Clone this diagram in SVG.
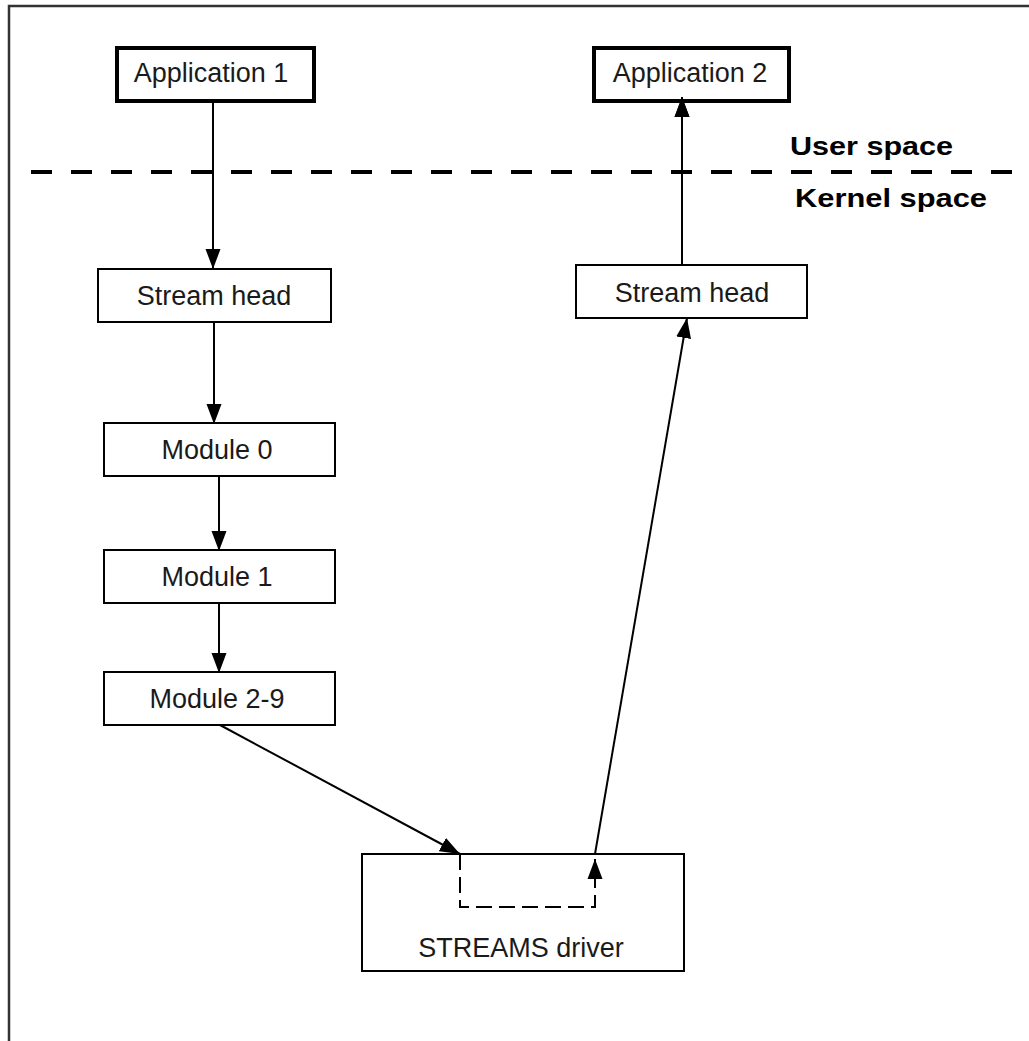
<svg xmlns="http://www.w3.org/2000/svg" width="1029" height="1041" viewBox="0 0 1029 1041">
  <style>
    .box { fill: #ffffff; stroke: #000000; stroke-width: 2; }
    .app { fill: #ffffff; stroke: #000000; stroke-width: 4; }
    .label { font-family: "Liberation Sans", Arial, sans-serif; font-size: 27px; fill: #1a1a1a; text-anchor: middle; }
    .zone { font-family: "Liberation Sans", Arial, sans-serif; font-size: 26px; font-weight: bold; fill: #000000; }
    .link { fill: none; stroke: #000000; stroke-width: 2; }
    .inner { fill: none; stroke: #000000; stroke-width: 2; stroke-dasharray: 16 7; }
  </style>
  <defs>
    <marker id="arrow" markerUnits="userSpaceOnUse" markerWidth="21" markerHeight="16" refX="20" refY="8" orient="auto">
      <path d="M0,0.5 L20,8 L0,15.5 Z" fill="#000000"/>
    </marker>
  </defs>

  <rect x="0" y="0" width="1029" height="1041" fill="#ffffff"/>

  <!-- outer frame (open to the right and bottom) -->
  <path d="M9,1041 V6 H1029" fill="none" stroke="#333333" stroke-width="2.5"/>

  <!-- user / kernel boundary -->
  <g id="boundary">
    <line x1="31" y1="172" x2="1029" y2="172" stroke="#000000" stroke-width="4" stroke-dasharray="21 19"/>
    <text class="zone" x="790" y="155" textLength="163" lengthAdjust="spacingAndGlyphs">User space</text>
    <text class="zone" x="795" y="207" textLength="192" lengthAdjust="spacingAndGlyphs">Kernel space</text>
  </g>

  <g id="connectors">
    <line class="link" x1="213" y1="102" x2="213" y2="269" marker-end="url(#arrow)"/>
    <line class="link" x1="214" y1="322" x2="214" y2="424" marker-end="url(#arrow)"/>
    <line class="link" x1="219" y1="476" x2="219" y2="551" marker-end="url(#arrow)"/>
    <line class="link" x1="219" y1="603" x2="219" y2="673" marker-end="url(#arrow)"/>
    <line class="link" x1="220" y1="725" x2="460" y2="854" marker-end="url(#arrow)"/>
    <path class="inner" d="M460,854 V907 H595 V877"/>
    <line class="link" x1="595" y1="880" x2="595" y2="859" marker-end="url(#arrow)"/>
    <line class="link" x1="595" y1="854" x2="687" y2="318" marker-end="url(#arrow)"/>
    <line class="link" x1="682" y1="265" x2="682" y2="97" marker-end="url(#arrow)"/>
  </g>

  <g id="app1">
    <rect class="app" x="117" y="48" width="197" height="53"/>
    <text class="label" x="211" y="82">Application 1</text>
  </g>

  <g id="app2">
    <rect class="app" x="594" y="48" width="195" height="53"/>
    <text class="label" x="690" y="82">Application 2</text>
  </g>
  <!-- arrow tip into Application 2 drawn over its frame -->
  <line class="link" x1="682" y1="125" x2="682" y2="97" marker-end="url(#arrow)"/>

  <g id="streamhead1">
    <rect class="box" x="98" y="269" width="233" height="53"/>
    <text class="label" x="214" y="305">Stream head</text>
  </g>

  <g id="streamhead2">
    <rect class="box" x="576" y="265" width="231" height="53"/>
    <text class="label" x="692" y="302">Stream head</text>
  </g>

  <g id="module0">
    <rect class="box" x="104" y="423" width="231" height="53"/>
    <text class="label" x="217" y="459">Module 0</text>
  </g>

  <g id="module1">
    <rect class="box" x="104" y="550" width="231" height="53"/>
    <text class="label" x="217" y="586">Module 1</text>
  </g>

  <g id="module29">
    <rect class="box" x="104" y="672" width="231" height="53"/>
    <text class="label" x="217" y="708">Module 2-9</text>
  </g>

  <g id="driver">
    <rect x="362" y="854" width="322" height="117" fill="none" stroke="#000000" stroke-width="2"/>
    <text class="label" x="521" y="957">STREAMS driver</text>
  </g>
</svg>
